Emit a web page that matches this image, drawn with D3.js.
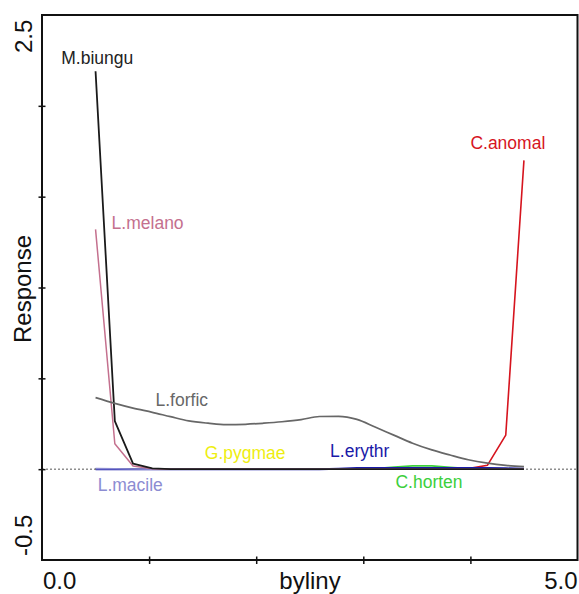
<!DOCTYPE html>
<html><head><meta charset="utf-8">
<script src="https://cdn.jsdelivr.net/npm/d3@7"></script>
<style>
html,body{margin:0;padding:0;background:#fff;}
svg{display:block;font-family:"Liberation Sans",Arial,sans-serif;}
</style></head>
<body><svg id="c" width="579" height="594"></svg>
<script>
// gradient positions (byliny)
const xs = [0.50,0.68,0.85,1.03,1.20,1.37,1.55,1.72,1.90,2.07,2.24,2.42,2.59,2.77,2.94,3.11,3.29,3.46,3.64,3.81,3.98,4.16,4.33,4.50];
const speciesNames = ["C.anomal","C.horten","G.pygmae","L.erythr","L.macile","L.melano","M.biungu","L.forfic"];
const anomal  = [0,0,0,0,0,0,0,0,0,0,0,0,0,0,0,0,0,0,0,0,0.003,0.022,0.187,1.70];
const horten  = [0,0,0,0,0,0,0,0,0,0,0,0,0,0,0,0.003,0.012,0.018,0.018,0.010,0.003,0,0,0];
const pygmae  = [0,0,0,0,0.001,0.002,0.002,0.003,0.003,0.002,0.002,0.001,0,0,0,0,0,0,0,0,0,0,0,0];
const erythr  = [0,0,0,0,0,0,0,0,0,0,0,0,0,0.002,0.006,0.007,0.007,0.007,0.007,0.007,0.007,0.006,0.005,0.002];
const macile  = [0.003,0.002,0.001,0,0,0,0,0,0,0,0,0,0,0,0,0,0,0,0,0,0,0,0,0];
const melano  = [1.32,0.14,0.017,0.002,0,0,0,0,0,0,0,0,0,0,0,0,0,0,0,0,0,0,0,0];
const biungu  = [2.19,0.265,0.031,0.004,0,0,0,0,0,0,0,0,0,0,0,0,0,0,0,0,0,0,0,0];
const forfic  = [0.394,0.362,0.336,0.313,0.289,0.266,0.253,0.245,0.247,0.253,0.261,0.273,0.290,0.291,0.274,0.232,0.186,0.143,0.106,0.078,0.052,0.033,0.021,0.014];
const xTickLabels = ["0.0","5.0"];
const yTickLabels = ["-0.5","2.5"];
const xTitle = "byliny", yTitle = "Response";

const series = [anomal,horten,pygmae,erythr,macile,melano,biungu,forfic];
const colors = ["#d6141e","#3ccf3c","#eeee10","#1a1aa8","#8c8cd2","#c4708e","#1a1a1a","#676767"];
const widths = [1.6,1.6,1.4,2.0,1.6,1.5,1.8,1.7];
const smooth = [false,false,false,false,false,false,false,true];
// label anchors (data units) for left-start text baseline
const labelPos = [[4.0,1.76],[3.30,-0.105],[1.52,0.055],[2.69,0.065],[0.52,-0.12],[0.65,1.32],[0.18,2.23],[1.06,0.345]];

const svg = d3.select("#c");
const L=42,R=577.5,T=15,B=560;
const x = d3.scaleLinear().domain([0,5]).range([L,R]);
const y = d3.scaleLinear().domain([-0.5,2.5]).range([B,T]);

// zero dotted line
svg.append("line").attr("x1",L).attr("x2",R).attr("y1",y(0)).attr("y2",y(0))
  .attr("stroke","#555").attr("stroke-width",1).attr("stroke-dasharray","2,2");

// curves
series.forEach((s,k)=>{
  const line = d3.line().x((d,i)=>x(xs[i])).y(d=>y(d))
    .curve(smooth[k]?d3.curveMonotoneX:d3.curveLinear);
  svg.append("path").attr("d",line(s)).attr("fill","none")
    .attr("stroke",colors[k]).attr("stroke-width",widths[k])
    .attr("stroke-linejoin","round");
});

// frame
svg.append("rect").attr("x",L).attr("y",T).attr("width",R-L).attr("height",B-T)
  .attr("fill","none").attr("stroke","#111").attr("stroke-width",2);

// axes
const ya = svg.append("g").attr("transform",`translate(${L},0)`)
  .call(d3.axisLeft(y).tickValues([0,0.5,1,1.5,2]).tickFormat("").tickSize(4).tickSizeOuter(0));
ya.select(".domain").remove();
ya.selectAll(".tick line").attr("x1",-3.5).attr("x2",3.5).attr("stroke","#111").attr("stroke-width",1.5);
const xa = svg.append("g").attr("transform",`translate(0,${B})`)
  .call(d3.axisBottom(x).tickValues([1,2,3,4]).tickFormat("").tickSize(4).tickSizeOuter(0));
xa.select(".domain").remove();
xa.selectAll(".tick line").attr("y1",-3.5).attr("y2",4).attr("stroke","#111").attr("stroke-width",1.5);

// end tick labels
svg.append("text").attr("x",L+1).attr("y",589).attr("font-size",24).attr("fill","#111").text(xTickLabels[0]);
svg.append("text").attr("x",R).attr("y",589).attr("text-anchor","end").attr("font-size",24).attr("fill","#111").text(xTickLabels[1]);
svg.append("text").attr("transform",`translate(32,556) rotate(-90)`).attr("font-size",24).attr("fill","#111").text(yTickLabels[0]);
svg.append("text").attr("transform",`translate(32,53) rotate(-90)`).attr("font-size",24).attr("fill","#111").text(yTickLabels[1]);
// titles
svg.append("text").attr("x",310).attr("y",589).attr("text-anchor","middle").attr("font-size",24).attr("fill","#111").text(xTitle);
svg.append("text").attr("transform",`translate(31,289) rotate(-90)`).attr("text-anchor","middle").attr("font-size",24).attr("fill","#111").text(yTitle);

// species labels
speciesNames.forEach((n,k)=>{
  svg.append("text").attr("x",x(labelPos[k][0])).attr("y",y(labelPos[k][1]))
    .attr("font-size",17.5).attr("fill", n==="M.biungu"?"#222":colors[k]).text(n);
});
</script></body></html>
